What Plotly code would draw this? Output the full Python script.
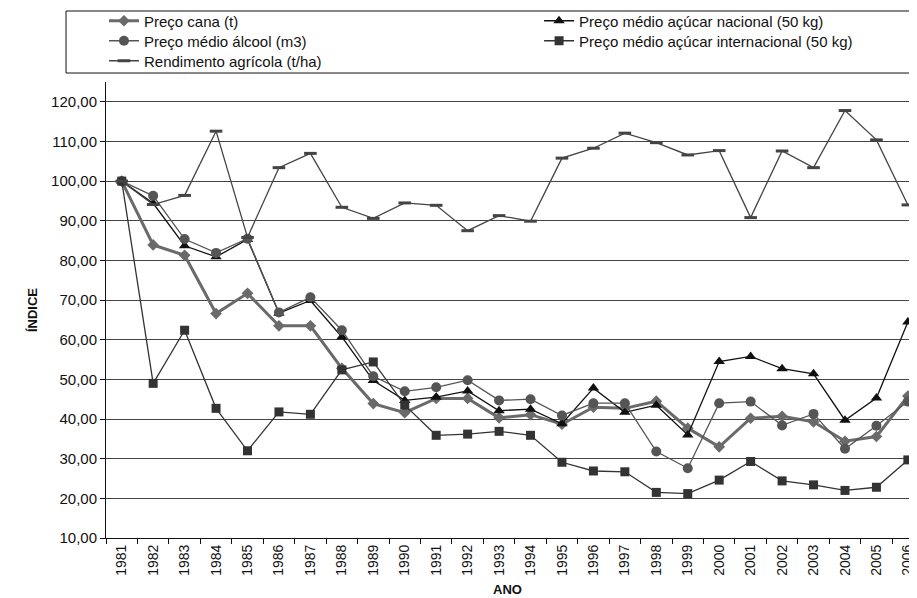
import plotly.graph_objects as go

anos = [str(y) for y in range(1981, 2007)]

preco_cana = [100.0, 83.9, 81.3, 66.6, 71.7, 63.5, 63.5, 52.8, 43.9, 41.6, 45.2, 45.2, 40.3, 41.1, 38.7, 43.0, 42.7,
              44.5, 37.7, 33.0, 40.2, 40.7, 39.3, 34.4, 35.6, 45.8]
acucar_nacional = [100.0, 94.4, 83.7, 80.9, 85.3, 66.7, 69.9, 60.7, 49.7, 44.7, 45.5, 47.1, 42.1, 42.5, 38.8, 47.8, 41.7,
                   43.5, 36.0, 54.5, 55.8, 52.7, 51.4, 39.7, 45.3, 64.5]
alcool = [100.0, 96.3, 85.4, 81.9, 85.5, 66.9, 70.7, 62.4, 50.8, 47.0, 48.0, 49.8, 44.7, 45.0, 40.9, 44.0, 44.0,
          31.8, 27.6, 44.0, 44.4, 38.4, 41.3, 32.5, 38.3, 44.4]
acucar_internacional = [100.0, 49.0, 62.4, 42.7, 32.0, 41.8, 41.2, 52.4, 54.4, 43.5, 35.9, 36.2, 36.9, 35.9, 29.1, 26.9, 26.7,
                        21.5, 21.2, 24.6, 29.3, 24.4, 23.4, 22.0, 22.8, 29.7]
rendimento = [100.0, 94.1, 96.4, 112.6, 85.8, 103.4, 107.0, 93.4, 90.6, 94.5, 93.9, 87.5, 91.3, 89.9, 105.8, 108.3, 112.1,
              109.7, 106.6, 107.7, 90.8, 107.6, 103.4, 117.8, 110.4, 94.0]

y_ticks = [10, 20, 30, 40, 50, 60, 70, 80, 90, 100, 110, 120]

FONT = "Liberation Sans, Arial, sans-serif"

fig = go.Figure()
fig.add_trace(go.Scatter(x=anos, y=preco_cana, name="Preço cana (t)", mode="lines+markers",
                         legend="legend",
                         line=dict(color="#6a6a6a", width=3),
                         marker=dict(symbol="diamond", size=9, color="#6a6a6a")))
fig.add_trace(go.Scatter(x=anos, y=acucar_nacional, name="Preço médio açúcar nacional (50 kg)", mode="lines+markers",
                         legend="legend2",
                         line=dict(color="#111111", width=1.3),
                         marker=dict(symbol="triangle-up", size=10, color="#111111")))
fig.add_trace(go.Scatter(x=anos, y=alcool, name="Preço médio álcool (m3)", mode="lines+markers",
                         legend="legend3",
                         line=dict(color="#555555", width=1.3),
                         marker=dict(symbol="circle", size=10, color="#555555")))
fig.add_trace(go.Scatter(x=anos, y=acucar_internacional, name="Preço médio açúcar internacional (50 kg)",
                         mode="lines+markers", legend="legend4",
                         line=dict(color="#333333", width=1.3),
                         marker=dict(symbol="square", size=9, color="#333333")))
fig.add_trace(go.Scatter(x=anos, y=rendimento, name="Rendimento agrícola (t/ha)", mode="lines+markers",
                         legend="legend5",
                         line=dict(color="#444444", width=1.3),
                         marker=dict(symbol="line-ew", size=9, color="#444444",
                                     line=dict(color="#444444", width=3))))

COL1 = -0.0025
COL2 = 0.534
ROWS = [1.1700, 1.1261, 1.0822]


def leg(x, y):
    return dict(x=x, y=y, xanchor="left", yanchor="top", orientation="v",
                font=dict(family=FONT, size=15, color="#111111"),
                bgcolor="rgba(0,0,0,0)", borderwidth=0, itemwidth=30)


# the page body adds an 8px offset, so the figure is 8px smaller and margins shifted
fig.update_layout(
    width=909, height=590,
    margin=dict(l=98, r=0, t=74, b=60, autoexpand=False),
    paper_bgcolor="white", plot_bgcolor="white",
    separators=",.",
    font=dict(family=FONT, size=15, color="#111111"),
    showlegend=True,
    legend=leg(COL1, ROWS[0]),
    legend2=leg(COL2, ROWS[0]),
    legend3=leg(COL1, ROWS[1]),
    legend4=leg(COL2, ROWS[1]),
    legend5=leg(COL1, ROWS[2]),
    xaxis=dict(type="category", range=[-0.5, 25.29], tickson="boundaries",
               ticks="outside", ticklen=5, tickcolor="#111111",
               showline=True, linecolor="#111111", linewidth=1,
               showgrid=False, tickangle=-90, tickfont=dict(size=14),
               automargin=False, fixedrange=True),
    yaxis=dict(range=[10, 125], tickvals=y_ticks, tickformat=".2f",
               ticks="outside", ticklen=5, tickcolor="#111111",
               showline=True, linecolor="#111111", linewidth=1,
               showgrid=True, gridcolor="#444444", gridwidth=1,
               zeroline=False, tickfont=dict(size=15), automargin=False),
    shapes=[dict(type="rect", xref="paper", yref="paper", x0=-0.0493, x1=1.01, y0=1.0197, y1=1.1557,
                 line=dict(color="#111111", width=1), fillcolor="rgba(0,0,0,0)", layer="below")],
    annotations=[
        dict(text="<b>ÍNDICE</b>", xref="paper", yref="paper", x=-0.0912, y=0.5, textangle=-90,
             showarrow=False, font=dict(family=FONT, size=13), xanchor="center", yanchor="middle"),
        dict(text="<b>ANO</b>", xref="paper", yref="paper", x=0.495, y=-0.114,
             showarrow=False, font=dict(family=FONT, size=13), xanchor="center", yanchor="middle"),
    ],
)

fig.write_html("out.html")
